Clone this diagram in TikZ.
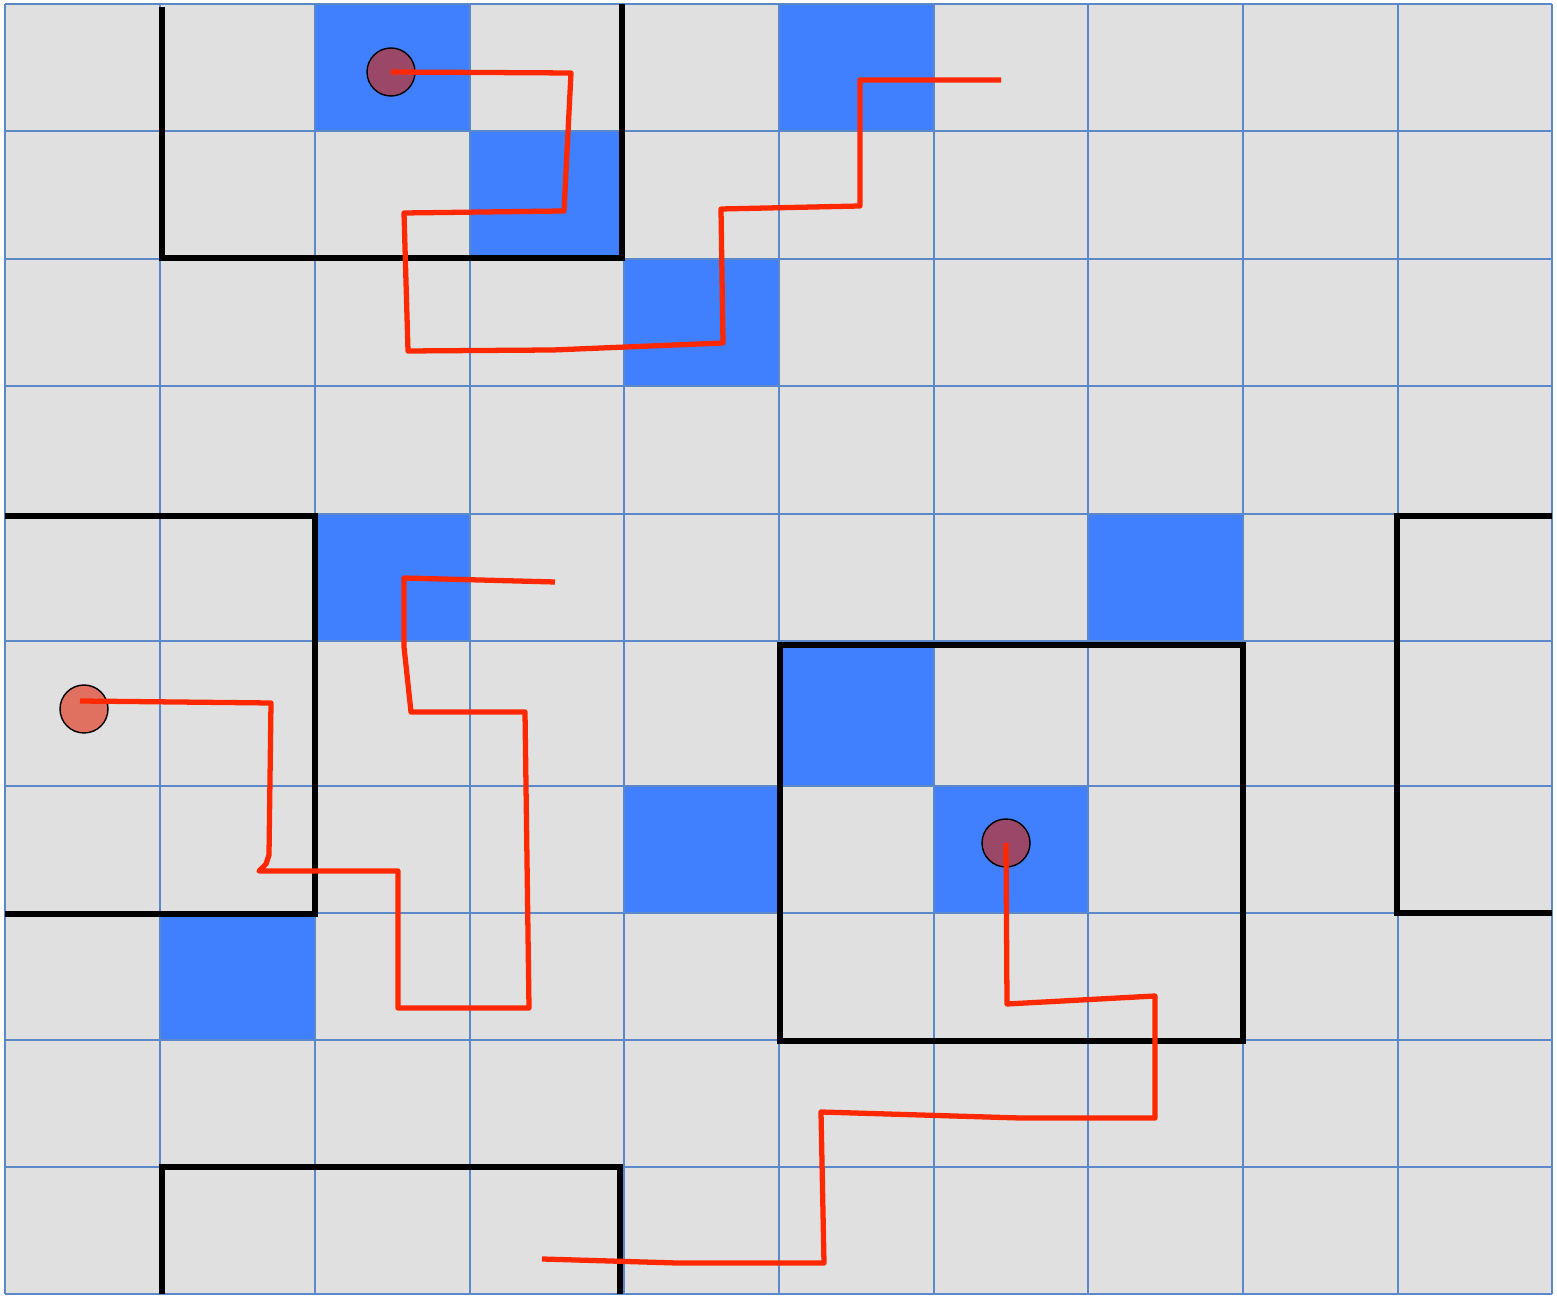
\documentclass[tikz,border=0pt]{standalone}
\usepackage{tikz}

\definecolor{cellgray}{RGB}{224,224,224}
\definecolor{gridblue}{RGB}{90,136,200}
\definecolor{cellblue}{RGB}{64,128,255}
\definecolor{routered}{RGB}{255,40,0}
\definecolor{botplum}{RGB}{155,72,104}
\definecolor{botsalmon}{RGB}{224,112,96}

\tikzset{
  gridline/.style={gridblue, line width=0.7pt},
  wall/.style={black, line width=1.7pt, line join=miter},
  route/.style={routered, line width=1.5pt, line join=round},
  robot/.style={circle, draw=black, line width=0.4pt, inner sep=0pt, minimum size=4.8mm}
}

\begin{document}
\begin{tikzpicture}[x=0.1mm, y=-0.1mm]

\useasboundingbox (0,0) rectangle (1557,1296);

% Floor
\fill[cellgray] (5,4) rectangle (1552,1294);

% Occupied cells
\fill[cellblue] (315,4) rectangle (470,131);
\fill[cellblue] (779,4) rectangle (934,131);
\fill[cellblue] (470,131) rectangle (624,259);
\fill[cellblue] (624,259) rectangle (779,386);
\fill[cellblue] (315,514) rectangle (470,641);
\fill[cellblue] (1088,514) rectangle (1243,641);
\fill[cellblue] (779,641) rectangle (934,786);
\fill[cellblue] (624,786) rectangle (779,913);
\fill[cellblue] (934,786) rectangle (1088,913);
\fill[cellblue] (160,913) rectangle (315,1040);

% Grid
\foreach \x in {5,160,315,470,624,779,934,1088,1243,1398,1552}
  \draw[gridline] (\x,4) -- (\x,1294);
\foreach \y in {4,131,259,386,514,641,786,913,1040,1167,1294}
  \draw[gridline] (5,\y) -- (1552,\y);

% Walls
\draw[wall] (162,7) -- (162,258) -- (622,258) -- (622,4);
\draw[wall] (5,516) -- (315,516) -- (315,914) -- (5,914);
\draw[wall] (780,645) rectangle (1243,1041);
\draw[wall] (1552,516) -- (1397,516) -- (1397,913) -- (1552,913);
\draw[wall] (162,1294) -- (162,1167) -- (620,1167) -- (620,1294);

% Robots
\node[robot, fill=botplum] (botA) at (391,72) {};
\node[robot, fill=botsalmon] (botB) at (84,709) {};
\node[robot, fill=botplum] (botC) at (1006,843) {};

% Routes
\draw[route] (botA.center) -- (571,73) -- (564,211) -- (404,213) -- (408,351)
  -- (553,350) -- (723,343) -- (721,209) -- (860,206) -- (860,80) -- (1001,80);

\draw[route] (80,701) -- (271,703) -- (269,855) -- (266,864) -- (259,871)
  -- (398,871) -- (398,1008) -- (529,1008) -- (525,712) -- (411,712)
  -- (404,647) -- (404,578) -- (555,582);

\draw[route] (botC.center) -- (1007,1004) -- (1155,996) -- (1155,1118)
  -- (1020,1118) -- (821,1112) -- (824,1263) -- (677,1263) -- (542,1259);

\end{tikzpicture}
\end{document}
